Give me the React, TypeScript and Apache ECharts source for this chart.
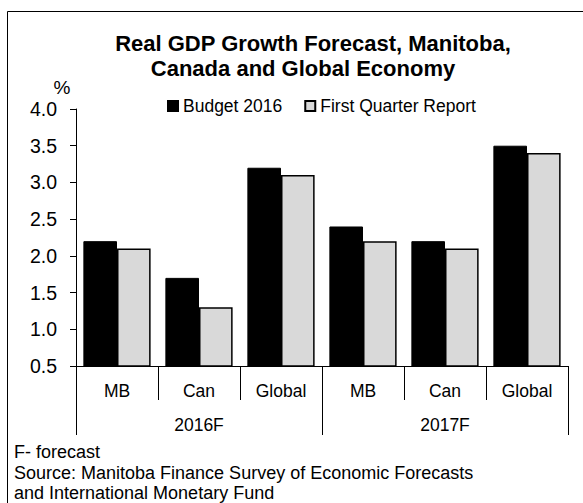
import React, { useEffect, useRef } from "react";
import * as echarts from "echarts";

const categories = ["MB", "Can", "Global", "MB", "Can", "Global"];
const groups = ["2016F", "2017F"];
const budget2016 = [2.2, 1.7, 3.2, 2.4, 2.2, 3.5];
const firstQuarter = [2.1, 1.3, 3.1, 2.2, 2.1, 3.4];
const seriesNames = ["Budget 2016", "First Quarter Report"];
const titleLines = ["Real GDP Growth Forecast, Manitoba,", "Canada and Global Economy"];
const footnotes = [
  "F- forecast",
  "Source: Manitoba Finance Survey of Economic Forecasts",
  "and International Monetary Fund",
];

const FONT = "'Liberation Sans', Arial, sans-serif";

export default function App() {
  const ref = useRef<HTMLDivElement>(null);
  useEffect(() => {
    if (!ref.current) return;
    const chart = echarts.init(ref.current, undefined, { renderer: "svg" });
    chart.setOption({
      animation: false,
      backgroundColor: "#ffffff",
      textStyle: { fontFamily: FONT, color: "#000" },
      legend: {
        left: 162,
        top: 92,
        itemWidth: 10,
        itemHeight: 10,
        itemGap: 22,
        icon: "rect",
        textStyle: { fontFamily: FONT, fontSize: 17.5, color: "#000" },
        data: seriesNames,
      },
      grid: { left: 76, right: 15, top: 109, bottom: 137, containLabel: false },
      xAxis: [
        {
          type: "category",
          data: categories,
          position: "bottom",
          axisLine: { show: true, lineStyle: { color: "#000", width: 1 } },
          axisTick: { show: true, length: 34, alignWithLabel: false, interval: 0, lineStyle: { color: "#000" } },
          axisLabel: { interval: 0, margin: 16, fontSize: 17.5, color: "#000", fontFamily: FONT },
        },
        {
          type: "category",
          data: groups,
          position: "bottom",
          axisLine: { show: false },
          axisTick: { show: true, length: 69, alignWithLabel: false, interval: 0, lineStyle: { color: "#000" } },
          axisLabel: { interval: 0, margin: 50, fontSize: 17.5, color: "#000", fontFamily: FONT },
        },
      ],
      yAxis: {
        type: "value",
        min: 0.5,
        max: 4.0,
        interval: 0.5,
        axisLine: { show: true, lineStyle: { color: "#000", width: 1 } },
        axisTick: { show: true, length: 6, inside: false, lineStyle: { color: "#000" } },
        splitLine: { show: false },
        axisLabel: {
          margin: 19,
          fontSize: 19.5,
          color: "#000",
          fontFamily: FONT,
          formatter: (v: number) => v.toFixed(1),
        },
      },
      series: [
        {
          name: seriesNames[0],
          type: "bar",
          xAxisIndex: 0,
          data: budget2016,
          barGap: "0%",
          barCategoryGap: "18%",
          itemStyle: { color: "#000000", borderColor: "#000000", borderWidth: 1 },
        },
        {
          name: seriesNames[1],
          type: "bar",
          xAxisIndex: 0,
          data: firstQuarter,
          barGap: "0%",
          barCategoryGap: "18%",
          itemStyle: { color: "#d9d9d9", borderColor: "#000000", borderWidth: 1.5 },
        },
      ],
      graphic: [
        {
          type: "rect",
          shape: { x: 7.5, y: 11.5, width: 600, height: 520 },
          style: { fill: "none", stroke: "#000", lineWidth: 1 },
          silent: true,
        },
        {
          type: "text",
          x: 313,
          y: 43,
          style: {
            text: titleLines[0],
            fontFamily: FONT,
            fontSize: 22,
            fontWeight: "bold",
            fill: "#000",
            textAlign: "center",
            textVerticalAlign: "middle",
          },
        },
        {
          type: "text",
          x: 303,
          y: 68,
          style: {
            text: titleLines[1],
            fontFamily: FONT,
            fontSize: 22,
            fontWeight: "bold",
            fill: "#000",
            textAlign: "center",
            textVerticalAlign: "middle",
          },
        },
        {
          type: "text",
          x: 62,
          y: 87,
          style: {
            text: "%",
            fontFamily: FONT,
            fontSize: 19,
            fill: "#000",
            textAlign: "center",
            textVerticalAlign: "middle",
          },
        },
        ...footnotes.map((t, i) => ({
          type: "text",
          x: 14,
          y: [451.5, 473, 492.5][i],
          style: {
            text: t,
            fontFamily: FONT,
            fontSize: 18,
            fill: "#000",
            textAlign: "left",
            textVerticalAlign: "middle",
          },
        })),
      ],
    });
    return () => chart.dispose();
  }, []);
  return (
    <div
      ref={ref}
      style={{ position: "fixed", left: 0, top: 0, width: 583, height: 503, background: "#fff" }}
    />
  );
}
